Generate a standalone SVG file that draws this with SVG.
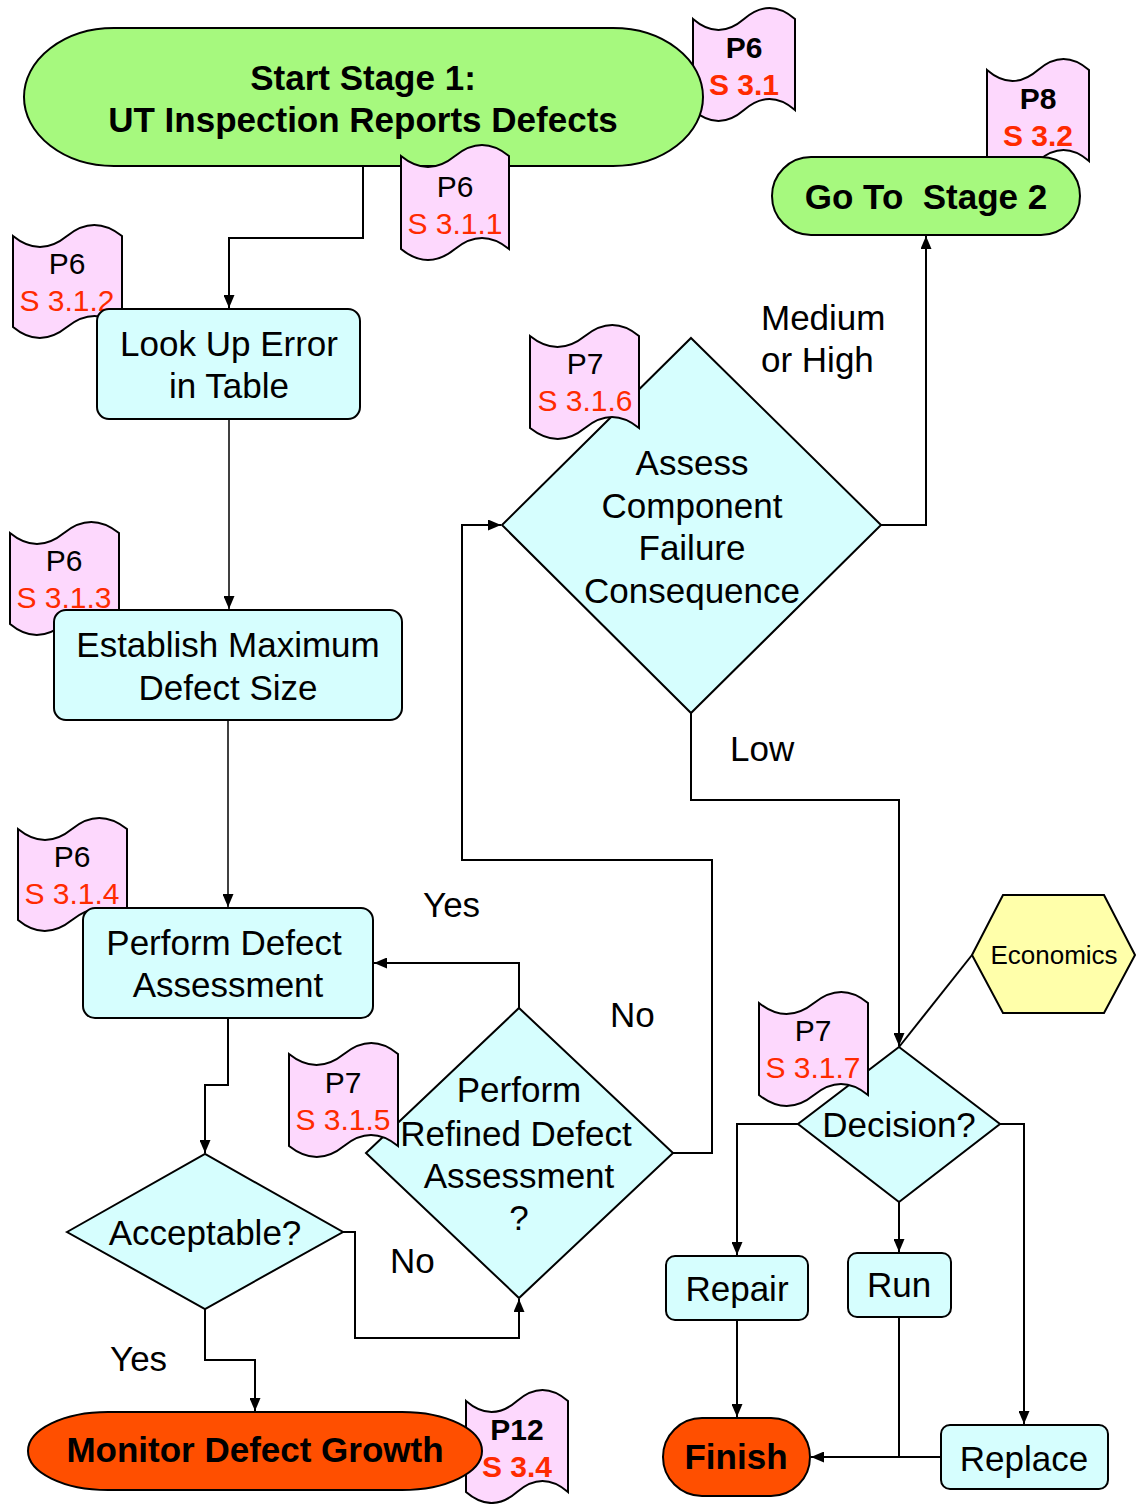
<svg xmlns="http://www.w3.org/2000/svg" width="1136" height="1504" viewBox="0 0 1136 1504">
<defs>
<marker id="arr" markerWidth="13" markerHeight="11" refX="13" refY="5.5" orient="auto" markerUnits="userSpaceOnUse">
<path d="M0,0 L13,5.5 L0,11 z" fill="#000"/>
</marker>
<style>
.proc{fill:#d6fefe;stroke:#000;stroke-width:2}
.tape{fill:#fdd8fd;stroke:#000;stroke-width:2}
.green{fill:#a6f97e;stroke:#000;stroke-width:2}
.orange{fill:#ff4f00;stroke:#000;stroke-width:2}
.hex{fill:#ffffaa;stroke:#000;stroke-width:2}
.t{font-family:"Liberation Sans",Arial,sans-serif;font-size:35px;fill:#000;text-anchor:middle}
.b{font-weight:bold}
.lab{font-family:"Liberation Sans",Arial,sans-serif;font-size:35px;fill:#000}
.tp{font-family:"Liberation Sans",Arial,sans-serif;font-size:30px;fill:#000;text-anchor:middle}
.tr{font-family:"Liberation Sans",Arial,sans-serif;font-size:30px;fill:#ff2a00;text-anchor:middle}
.c{fill:none;stroke:#000;stroke-width:2}
.cl{fill:none;stroke:#000;stroke-width:1.5}
</style>
</defs>

<!-- tapes behind nodes -->
<g id="ref-p6-s31">
<path class="tape" d="M693,19 Q718.5,41 744,19 T795,19 L795,110 Q769.5,88 744,110 T693,110 Z"/>
<text class="tp b" x="744" y="58">P6</text>
<text class="tr b" x="744" y="95">S 3.1</text>
</g>
<g id="ref-p8-s32">
<path class="tape" d="M987,70 Q1012.5,92 1038,70 T1089,70 L1089,161 Q1063.5,139 1038,161 T987,161 Z"/>
<text class="tp b" x="1038" y="109">P8</text>
<text class="tr b" x="1038" y="146">S 3.2</text>
</g>
<g id="ref-p12-s34">
<path class="tape" d="M466,1401 Q491.5,1423 517,1401 T568,1401 L568,1492 Q542.5,1470 517,1492 T466,1492 Z"/>
<text class="tp b" x="517" y="1440">P12</text>
<text class="tr b" x="517" y="1477">S 3.4</text>
</g>
<g id="ref-p6-s312">
<path class="tape" d="M13,236 Q40,258 67,236 T122,236 L122,327 Q94.5,305 67,327 T13,327 Z"/>
<text class="tp" x="67" y="274">P6</text>
<text class="tr" x="67" y="311">S 3.1.2</text>
</g>
<g id="ref-p6-s313">
<path class="tape" d="M10,533 Q37,555 64,533 T119,533 L119,624 Q91.5,602 64,624 T10,624 Z"/>
<text class="tp" x="64" y="571">P6</text>
<text class="tr" x="64" y="608">S 3.1.3</text>
</g>
<g id="ref-p6-s314">
<path class="tape" d="M18,829 Q45,851 72,829 T127,829 L127,920 Q99.5,898 72,920 T18,920 Z"/>
<text class="tp" x="72" y="867">P6</text>
<text class="tr" x="72" y="904">S 3.1.4</text>
</g>

<!-- connectors -->
<g id="connectors">
<path class="c" d="M363,166 V238 H229 V308" marker-end="url(#arr)"/>
<path class="cl" d="M229,419 V609" marker-end="url(#arr)"/>
<path class="cl" d="M228,720 V907" marker-end="url(#arr)"/>
<path class="c" d="M228,1018 V1085 H205 V1153" marker-end="url(#arr)"/>
<path class="c" d="M205,1309 V1360 H255 V1411" marker-end="url(#arr)"/>
<path class="c" d="M343,1232 H355 V1338 H519 V1299" marker-end="url(#arr)"/>
<path class="c" d="M519,1008 V963 H374" marker-end="url(#arr)"/>
<path class="c" d="M673,1153 H712 V860 H462 V525 H501" marker-end="url(#arr)"/>
<path class="c" d="M881,525 H926 V236" marker-end="url(#arr)"/>
<path class="c" d="M691,713 V800 H899 V1046" marker-end="url(#arr)"/>
<path class="c" d="M972,955 L899,1047"/>
<path class="c" d="M798,1124 H737 V1255" marker-end="url(#arr)"/>
<path class="c" d="M899,1202 V1252" marker-end="url(#arr)"/>
<path class="c" d="M1000,1124 H1024 V1424" marker-end="url(#arr)"/>
<path class="c" d="M737,1320 V1417" marker-end="url(#arr)"/>
<path class="c" d="M899,1317 V1457"/>
<path class="c" d="M941,1457 H811" marker-end="url(#arr)"/>
</g>

<!-- nodes -->
<g id="start">
<rect class="green" x="24" y="28" width="679" height="138" rx="90" ry="69"/>
<text class="t b" x="363" y="90">Start Stage 1:</text>
<text class="t b" x="363" y="132">UT Inspection Reports Defects</text>
</g>
<g id="goto-stage2">
<rect class="green" x="772" y="157" width="308" height="78" rx="39" ry="39"/>
<text class="t b" x="926" y="209" style="white-space:pre">Go To  Stage 2</text>
</g>
<g id="lookup">
<rect class="proc" x="97" y="309" width="263" height="110" rx="12"/>
<text class="t" x="229" y="356">Look Up Error</text>
<text class="t" x="229" y="398">in Table</text>
</g>
<g id="establish">
<rect class="proc" x="54" y="610" width="348" height="110" rx="12"/>
<text class="t" x="228" y="657">Establish Maximum</text>
<text class="t" x="228" y="700">Defect Size</text>
</g>
<g id="perform">
<rect class="proc" x="83" y="908" width="290" height="110" rx="12"/>
<text class="t" x="224" y="955">Perform Defect</text>
<text class="t" x="228" y="997">Assessment</text>
</g>
<g id="acceptable">
<polygon class="proc" points="67,1232 205,1154 343,1232 205,1309"/>
<text class="t" x="205" y="1245">Acceptable?</text>
</g>
<g id="refined">
<polygon class="proc" points="519,1008 673,1153 519,1298 366,1153"/>
<text class="t" x="519" y="1102">Perform</text>
<text class="t" x="516" y="1146">Refined Defect</text>
<text class="t" x="519" y="1188">Assessment</text>
<text class="t" x="519" y="1230">?</text>
</g>
<g id="assess">
<polygon class="proc" points="691,338 881,525 691,713 502,525"/>
<text class="t" x="692" y="475">Assess</text>
<text class="t" x="692" y="518">Component</text>
<text class="t" x="692" y="560">Failure</text>
<text class="t" x="692" y="603">Consequence</text>
</g>
<g id="economics">
<polygon class="hex" points="972,955 1003,895 1104,895 1135,955 1104,1013 1003,1013"/>
<text class="t" x="1054" y="964" style="font-size:26px">Economics</text>
</g>
<g id="decision">
<polygon class="proc" points="899,1047 1000,1124 899,1202 798,1124"/>
<text class="t" x="899" y="1137">Decision?</text>
</g>
<g id="repair">
<rect class="proc" x="666" y="1256" width="142" height="64" rx="9"/>
<text class="t" x="737" y="1301">Repair</text>
</g>
<g id="run">
<rect class="proc" x="848" y="1253" width="103" height="64" rx="9"/>
<text class="t" x="899" y="1297">Run</text>
</g>
<g id="replace">
<rect class="proc" x="941" y="1425" width="167" height="64" rx="9"/>
<text class="t" x="1024" y="1471">Replace</text>
</g>
<g id="monitor">
<rect class="orange" x="28" y="1412" width="454" height="78" rx="80" ry="39"/>
<text class="t b" x="255" y="1462">Monitor Defect Growth</text>
</g>
<g id="finish">
<rect class="orange" x="663" y="1418" width="147" height="78" rx="39" ry="39"/>
<text class="t b" x="736" y="1469">Finish</text>
</g>

<!-- tapes in front -->
<g id="ref-p6-s311">
<path class="tape" d="M401,156 Q428,178 455,156 T509,156 L509,249 Q482,227 455,249 T401,249 Z"/>
<text class="tp" x="455" y="197">P6</text>
<text class="tr" x="455" y="234">S 3.1.1</text>
</g>
<g id="ref-p7-s315">
<path class="tape" d="M289,1054 Q316.5,1076 344,1054 T398,1054 L398,1146 Q371,1124 344,1146 T289,1146 Z"/>
<text class="tp" x="343" y="1093">P7</text>
<text class="tr" x="343" y="1130">S 3.1.5</text>
</g>
<g id="ref-p7-s316">
<path class="tape" d="M530,336 Q557.5,358 585,336 T639,336 L639,428 Q612,406 585,428 T530,428 Z"/>
<text class="tp" x="585" y="374">P7</text>
<text class="tr" x="585" y="411">S 3.1.6</text>
</g>
<g id="ref-p7-s317">
<path class="tape" d="M759,1003 Q786.5,1025 814,1003 T868,1003 L868,1095 Q841,1073 814,1095 T759,1095 Z"/>
<text class="tp" x="813" y="1041">P7</text>
<text class="tr" x="813" y="1078">S 3.1.7</text>
</g>

<!-- labels -->
<g id="labels">
<text class="lab" x="761" y="330">Medium</text>
<text class="lab" x="761" y="372">or High</text>
<text class="lab" x="730" y="761">Low</text>
<text class="lab" x="423" y="917">Yes</text>
<text class="lab" x="610" y="1027">No</text>
<text class="lab" x="390" y="1273">No</text>
<text class="lab" x="110" y="1371">Yes</text>
</g>
</svg>
